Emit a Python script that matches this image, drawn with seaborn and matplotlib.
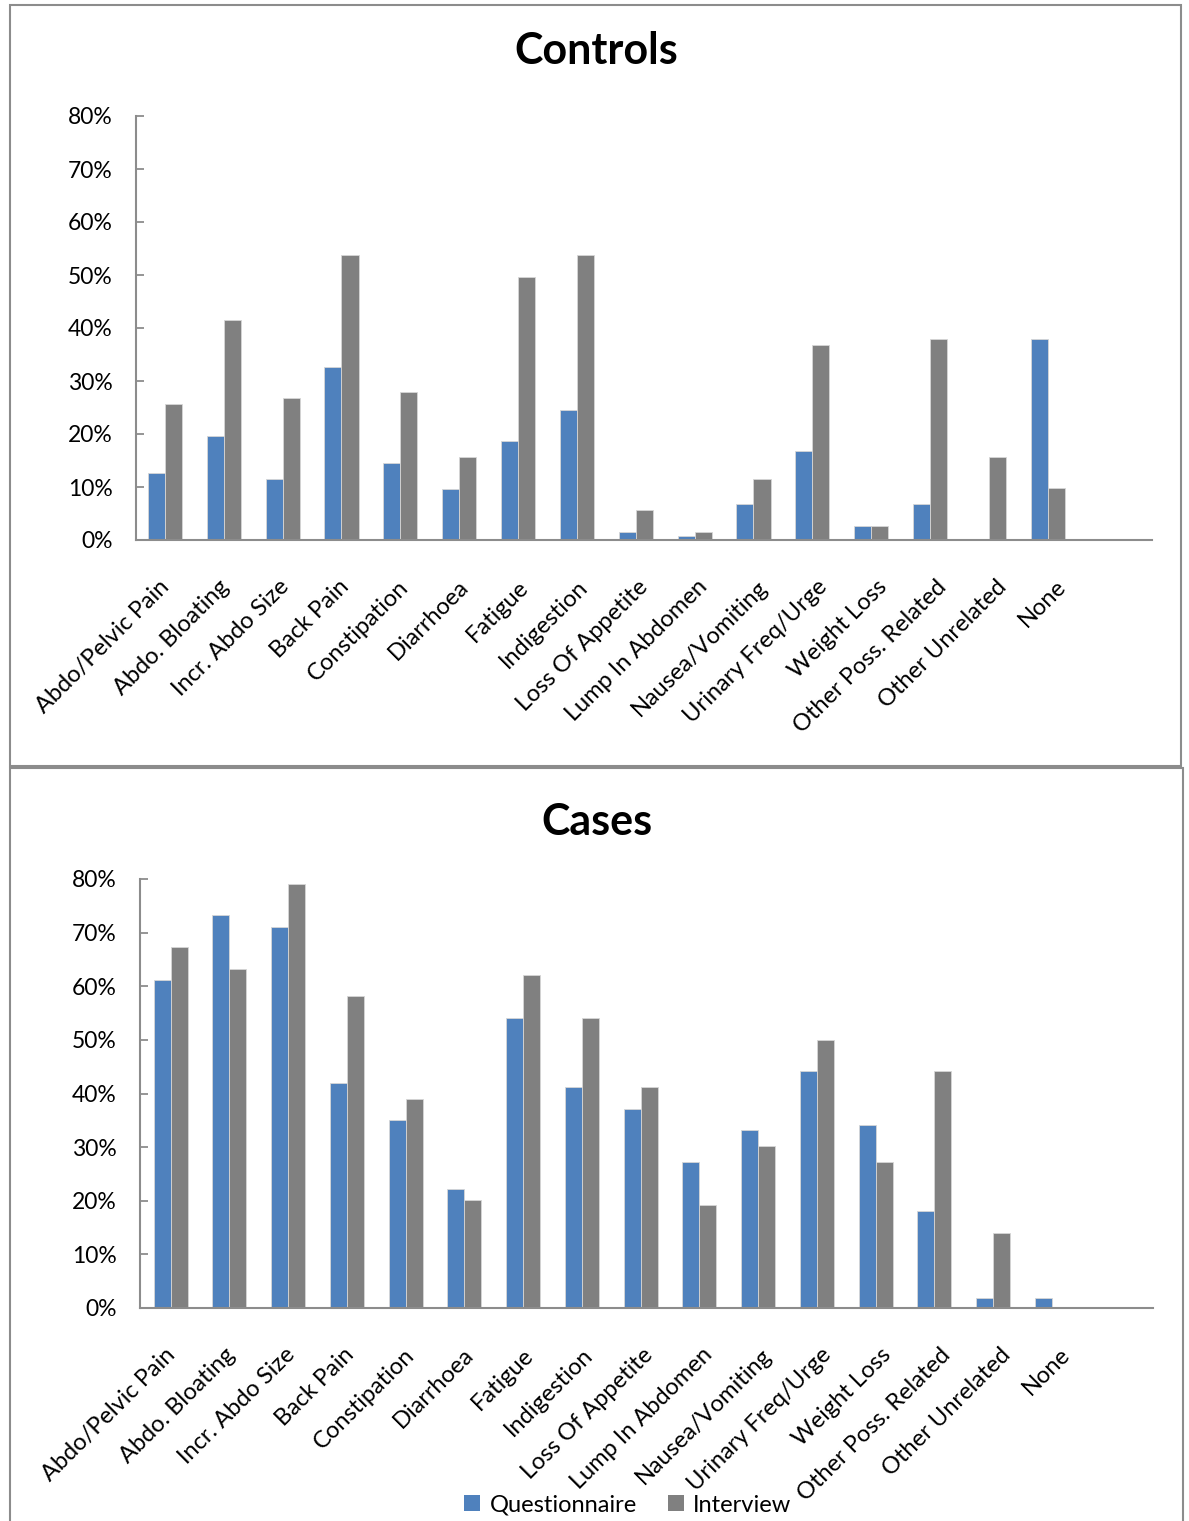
import matplotlib
matplotlib.use("Agg")
import matplotlib.pyplot as plt
import matplotlib.patches as mpatches
from matplotlib.ticker import PercentFormatter
from matplotlib.transforms import ScaledTranslation
import numpy as np
import pandas as pd
import seaborn as sns

# Symptom categories (x axis)
symptoms = [
    "Abdo/Pelvic Pain", "Abdo. Bloating", "Incr. Abdo Size", "Back Pain",
    "Constipation", "Diarrhoea", "Fatigue", "Indigestion", "Loss Of Appetite",
    "Lump In Abdomen", "Nausea/Vomiting", "Urinary Freq/Urge", "Weight Loss",
    "Other Poss. Related", "Other Unrelated", "None",
]
methods = ["Questionnaire", "Interview"]

# Percent of respondents reporting each symptom
controls_questionnaire = [12.7, 19.7, 11.6, 32.7, 14.5, 9.7, 18.6, 24.5,
                          1.6, 0.8, 6.8, 16.7, 2.7, 6.8, 0.0, 37.9]
controls_interview = [25.6, 41.5, 26.7, 53.8, 27.9, 15.7, 49.7, 53.8,
                      5.6, 1.6, 11.6, 36.8, 2.7, 37.9, 15.7, 9.8]
cases_questionnaire = [61.1, 73.2, 71.0, 42.0, 35.0, 22.1, 54.1, 41.2,
                       37.1, 27.2, 33.2, 44.2, 34.2, 18.0, 1.9, 1.9]
cases_interview = [67.3, 63.2, 79.1, 58.1, 39.0, 20.2, 62.1, 54.1,
                   41.2, 19.2, 30.2, 50.0, 27.2, 44.2, 14.0, 0.0]

y_ticks = [0, 10, 20, 30, 40, 50, 60, 70, 80]

BLUE = "#4F81BD"
GRAY = "#808080"
AXIS_GRAY = "#8C8C8C"

sns.set_theme(style="white")
plt.rcParams["font.family"] = ["Lato", "DejaVu Sans"]
plt.rcParams["text.color"] = "black"
plt.rcParams["xtick.labelcolor"] = "black"
plt.rcParams["ytick.labelcolor"] = "black"

W, H = 1189, 1521
fig = plt.figure(figsize=(W / 100, H / 100), dpi=100)


def long_frame(q, i):
    return pd.DataFrame({
        "Symptom": symptoms * 2,
        "Method": [methods[0]] * len(symptoms) + [methods[1]] * len(symptoms),
        "Pct": list(q) + list(i),
    })


def draw_panel(rect, q, i, xlim):
    ax = fig.add_axes(rect)
    df = long_frame(q, i)
    sns.barplot(data=df, x="Symptom", y="Pct", hue="Method",
                palette=[BLUE, GRAY], width=0.58, ax=ax, legend=False,
                edgecolor="#D6D6D6", linewidth=0.6, saturation=1)
    ax.set_ylim(0, 80)
    ax.set_xlim(*xlim)
    ax.set_yticks(y_ticks)
    ax.yaxis.set_major_formatter(PercentFormatter(100, decimals=0))
    ax.set_xlabel("")
    ax.set_ylabel("")
    for side in ("top", "right"):
        ax.spines[side].set_visible(False)
    for side in ("left", "bottom"):
        ax.spines[side].set_color(AXIS_GRAY)
        ax.spines[side].set_linewidth(1.5)
    ax.tick_params(axis="y", direction="in", length=6, width=1.3,
                   color=AXIS_GRAY, pad=17, labelsize=16.5, labelcolor="black",
                   left=True)
    ax.tick_params(axis="x", length=0, pad=26, labelsize=17, labelcolor="black")
    ax.set_xticks(range(len(symptoms)))
    ax.set_xticklabels(symptoms, rotation=45, ha="right", va="top",
                       rotation_mode="anchor")
    # category labels sit on a slightly wider pitch than the bar groups
    for k, lab in enumerate(ax.get_xticklabels()):
        dx = (-6 + 0.9 * k) / 100
        lab.set_transform(lab.get_transform()
                          + ScaledTranslation(dx, 0, fig.dpi_scale_trans))
    return ax


ax_controls = draw_panel([136 / W, 1 - 540 / H, 1016 / W, 424 / H],
                         controls_questionnaire, controls_interview,
                         (-0.49, 16.77))
ax_cases = draw_panel([140 / W, 1 - 1308 / H, 1013 / W, 429 / H],
                      cases_questionnaire, cases_interview,
                      (-0.52, 16.72))

# Panel titles
fig.text(596 / W, 1 - 64 / H, "Controls", ha="center", va="baseline",
         fontsize=31, fontweight="bold", color="black")
fig.text(597 / W, 1 - 835 / H, "Cases", ha="center", va="baseline",
         fontsize=31, fontweight="bold", color="black")

# Panel frames
for (x0, y0, x1, y1) in [(10, 5, 1181, 766), (10, 768, 1183, 1530)]:
    fig.patches.append(mpatches.Rectangle(
        (x0 / W, 1 - y1 / H), (x1 - x0) / W, (y1 - y0) / H,
        transform=fig.transFigure, fill=False, edgecolor=AXIS_GRAY,
        linewidth=1.5, zorder=0))

# Shared legend at the bottom
handles = [mpatches.Patch(facecolor=BLUE, edgecolor="none", label=methods[0]),
           mpatches.Patch(facecolor=GRAY, edgecolor="none", label=methods[1])]
fig.legend(handles=handles, loc="center", bbox_to_anchor=(628 / W, 16 / H),
           ncol=2, frameon=False, fontsize=17, handlelength=0.68,
           handleheight=0.68, handletextpad=0.4, columnspacing=1.3)

fig.savefig("out.png", dpi=100)
